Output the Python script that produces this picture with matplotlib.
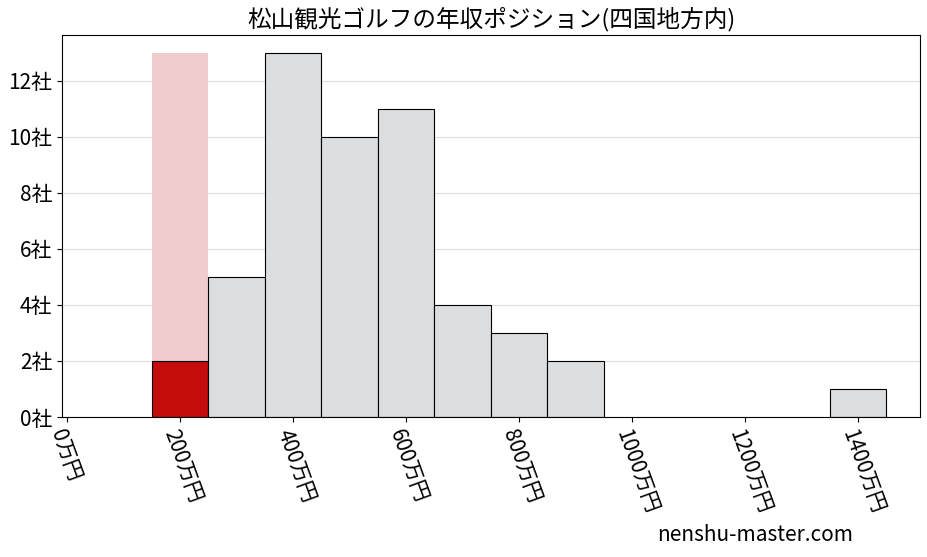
import matplotlib
matplotlib.use("Agg")
import matplotlib.pyplot as plt

plt.rcParams['font.family'] = ['Noto Sans CJK JP', 'DejaVu Sans']

bin_left = [150, 250, 350, 450, 550, 650, 750, 850, 1350]
counts = [2, 5, 13, 10, 11, 4, 3, 2, 1]
highlight_left = 150
highlight_count = 2
highlight_max = 13
xticks = [0, 200, 400, 600, 800, 1000, 1200, 1400]
yticks = [0, 2, 4, 6, 8, 10, 12]

fig = plt.figure(figsize=(9.27, 5.57), dpi=100)
ax = fig.add_axes([62/927, 1-417/557, (920-62)/927, (417-35)/557])

ax.bar(highlight_left, highlight_max, width=100, align='edge', color='#f0cccc', zorder=1)
for l, c in zip(bin_left, counts):
    if l == highlight_left:
        ax.bar(l, c, width=100, align='edge', color='#c40c0c', edgecolor='black', linewidth=0.8, zorder=2)
    else:
        ax.bar(l, c, width=100, align='edge', color='#dcdddf', edgecolor='black', linewidth=0.8, zorder=2)

ax.set_xlim(-9, 1510)
ax.set_ylim(0, 13.64)
ax.set_xticks(xticks)
ax.set_xticklabels([f"{v}万円" for v in xticks], rotation=-70, ha='left', rotation_mode='anchor', fontsize=15)
ax.set_yticks(yticks)
ax.set_yticklabels([f"{v}社" for v in yticks], fontsize=15)
ax.grid(axis='y', color='#dddddd', linewidth=0.8, zorder=0)
ax.set_axisbelow(True)
ax.set_title("松山観光ゴルフの年収ポジション(四国地方内)", fontsize=17)
fig.text(0.92, 0.02, "nenshu-master.com", ha='right', va='bottom', fontsize=15)

fig.savefig("out.png", dpi=100)
